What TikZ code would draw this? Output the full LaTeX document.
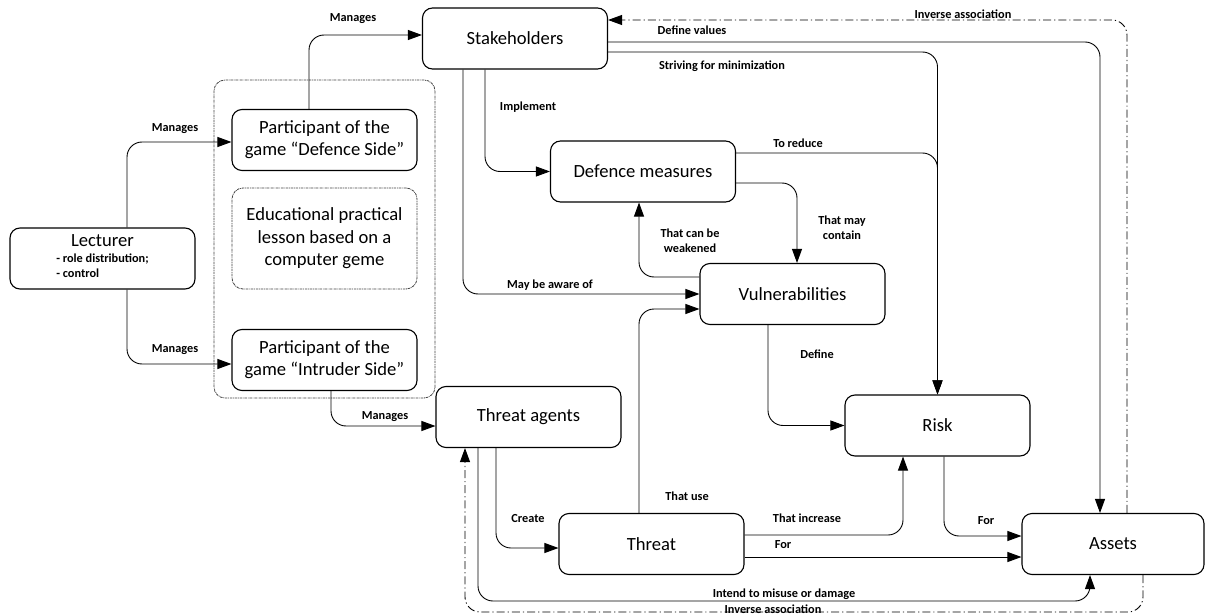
\documentclass[tikz,border=0pt]{standalone}
\usepackage{fontspec}
\setmainfont{Carlito}
\usetikzlibrary{arrows.meta,calc}
\tikzset{
  box/.style={draw, line width=1.1pt, rounded corners=10pt, minimum width=185pt, minimum height=61pt,
    align=center, inner sep=2pt, font=\fontsize{18.6}{22}\selectfont},
  dotbox/.style={draw=black!75, line width=0.8pt, rounded corners=11pt,
    dash pattern=on 2.5pt off 0.8pt on 0.8pt off 0.8pt},
  lbl/.style={font=\bfseries\fontsize{12.3}{15}\selectfont, inner sep=0pt, align=center},
  conn/.style={draw, line width=0.9pt, rounded corners=15pt, -{Triangle[length=14pt,width=10pt]}},
  invconn/.style={conn, dash pattern=on 8pt off 3pt on 1.2pt off 3pt},
}
\begin{document}
\begin{tikzpicture}[x=1pt,y=-1pt]
\useasboundingbox (0,0) rectangle (1205,615);
% container and educational box
\node[dotbox, minimum width=221pt, minimum height=318pt] (cont) at (324.5,239) {};
\node[dotbox, minimum width=185pt, minimum height=101pt, align=center, font=\fontsize{18.6}{22.5}\selectfont] (edu) at (324.5,238.5)
  {Educational practical\\lesson based on a\\computer geme};
% boxes
\node[box] (lect) at (102.5,258.5) {Lecturer\\[1pt]{\bfseries\fontsize{12.3}{15}\selectfont\begin{tabular}{@{}l@{}}- role distribution;\\- control\end{tabular}}};
\node[box] (pdef) at (324.5,140) {Participant of the\\game “Defence Side”};
\node[box] (pint) at (324.5,360) {Participant of the\\game “Intruder Side”};
\node[box] (stake) at (515,38.5) {Stakeholders};
\node[box] (dm) at (643,171.5) {Defence measures};
\node[box] (vul) at (792.5,294) {Vulnerabilities};
\node[box] (ta) at (528.5,417) {Threat agents};
\node[box] (thr) at (651.5,544) {Threat};
\node[box] (risk) at (937.5,425.5) {Risk};
\node[box, minimum width=182pt] (assets) at (1113,544) {Assets};
% helper coordinates
\coordinate (m1) at (1090,601);
\coordinate (m2) at (465,612);
% connectors
\draw[conn] ([xshift=24.5pt]lect.north) |- ([yshift=-2pt]pdef.west);
\draw[conn] ([xshift=24.5pt]lect.south) |- ([yshift=-4pt]pint.west);
\draw[conn] ([xshift=-15.5pt]pdef.north) |- ([yshift=3.5pt]stake.west);
\draw[conn] ([xshift=6.5pt]pint.south) |- ([yshift=-9pt]ta.west);
\draw[conn] ([xshift=-30pt]stake.south) |- (dm.west);
\draw[conn] ([xshift=-52pt]stake.south) |- (vul.west);
\draw[conn] ([yshift=17pt]vul.west) -| ([xshift=-4pt]dm.south);
\draw[conn] ([yshift=-11.5pt]dm.east) -| ([xshift=4.5pt]vul.north);
\draw[conn] ([yshift=18.5pt]dm.east) -| (risk.north);
\draw[conn] ([yshift=-13.5pt]stake.east) -| (risk.north);
\draw[conn] ([yshift=-3.5pt]stake.east) -| ([xshift=-13pt]assets.north);
\draw[invconn] ([xshift=14pt]assets.north) |- ([yshift=18.5pt]stake.east);
\draw[conn] ([xshift=-32.5pt]ta.south) |- ([yshift=-4pt]thr.west);
\draw[conn] ([xshift=-12.5pt]thr.north) |- ([yshift=-15pt]vul.west);
\draw[conn] ([xshift=-24.5pt]vul.south) |- (risk.west);
\draw[conn] ([yshift=9pt]thr.east) -| ([xshift=-34.5pt]risk.south);
\draw[conn] ([yshift=-13pt]thr.east) -- ([yshift=-13pt]assets.west);
\draw[conn] ([xshift=6.5pt]risk.south) |- ([yshift=8pt]assets.west);
\draw[conn] ([xshift=-50.5pt]ta.south) |- (m1) -- ([xshift=-23pt]assets.south);
\draw[invconn] ([xshift=30pt]assets.south) |- (m2) -- ([xshift=-63.5pt]ta.south);
% labels
\node[lbl] (lb1) at (353,19) {Manages};
\node[lbl] (lb2) at (175,129) {Manages};
\node[lbl] (lb3) at (175,350) {Manages};
\node[lbl] (lb4) at (385,417) {Manages};
\node[lbl] (lb5) at (528,107) {Implement};
\node[lbl] (lb6) at (550,285) {May be aware of};
\node[lbl] (lb7) at (690,241) {That can be\\weakened};
\node[lbl] (lb8) at (842,228) {That may\\contain};
\node[lbl] (lb9) at (798,143) {To reduce};
\node[lbl] (lb10) at (692,30) {Define values};
\node[lbl] (lb11) at (722,66) {Striving for minimization};
\node[lbl] (lb12) at (963,14) {Inverse association};
\node[lbl] (lb13) at (528,519) {Create};
\node[lbl] (lb14) at (687,496) {That use};
\node[lbl] (lb15) at (817,354) {Define};
\node[lbl] (lb16) at (807,518) {That increase};
\node[lbl] (lb17) at (783,545) {For};
\node[lbl] (lb18) at (986,521) {For};
\node[lbl] (lb19) at (784,594) {Intend to misuse or damage};
\node[lbl] (lb20) at (773,609) {Inverse association};
\end{tikzpicture}
\end{document}
